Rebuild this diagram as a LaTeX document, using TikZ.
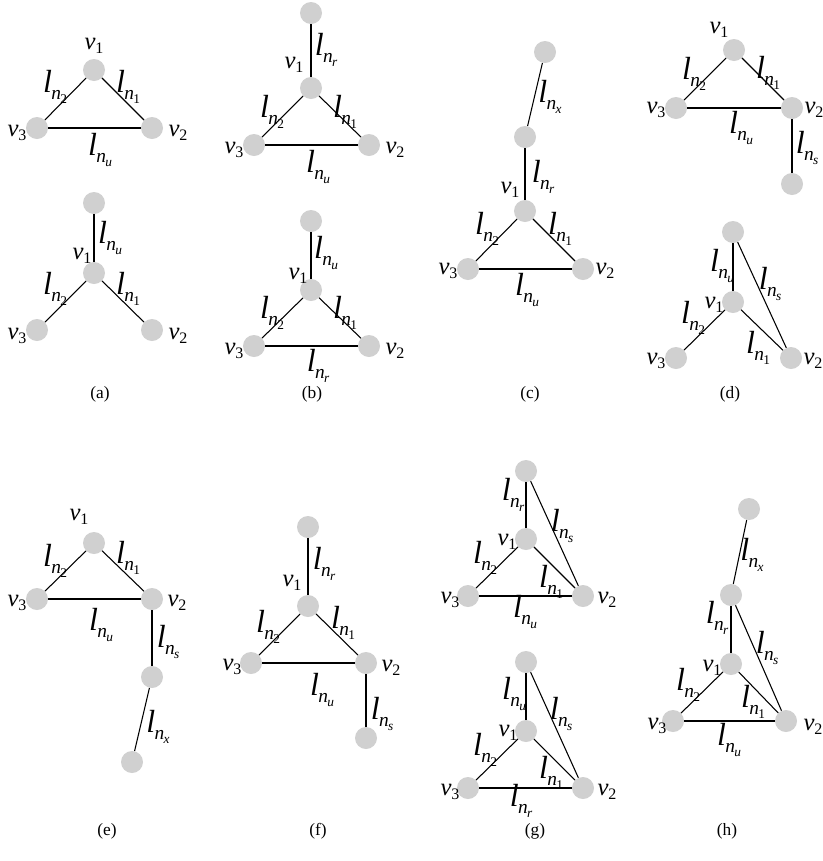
\documentclass[tikz,border=0pt]{standalone}
\usepackage{fontspec}
\setmainfont{Liberation Serif}
\definecolor{vgray}{RGB}{208,208,208}
\newcommand\Lab[1]{\fontsize{24}{24}\selectfont\itshape l\kern-0.5pt\raisebox{-5.5pt}{\fontsize{14.5}{14.5}\selectfont n\kern-0.5pt\raisebox{-2.8pt}{\fontsize{10}{10}\selectfont #1}}}
\newcommand\Vlab[1]{\fontsize{18.5}{18.5}\selectfont\itshape v\raisebox{-3pt}{\fontsize{12}{12}\selectfont\upshape #1}}
\newcommand\Cap[1]{\fontsize{13}{13}\selectfont (#1)}
\tikzset{
  vert/.style={circle, fill=vgray, minimum size=16.5pt, inner sep=0pt},
  edge/.style={line width=0.8pt, black},
  lab/.style={inner sep=0pt}
}
\begin{document}
\begin{tikzpicture}[x=0.75pt,y=-0.75pt]
\useasboundingbox (0,0) rectangle (822,861);
\clip (0,0) rectangle (822,861);
\fill[white] (0,0) rectangle (822,861);
% ---------- (a) top
\node[vert] (A1) at (94,70) {};
\node[vert] (A2) at (152,128) {};
\node[vert] (A3) at (37,128) {};
\draw[edge] (A1) -- (A2); \draw[edge] (A1) -- (A3); \draw[edge] (A3) -- (A2);
\node[lab] (Av1) at (94,46) {\Vlab{1}};
\node[lab] (Al2) at (55,87) {\Lab{\upshape 2}};
\node[lab] (Al1) at (128,87) {\Lab{\upshape 1}};
\node[lab] (Av3) at (17,133) {\Vlab{3}};
\node[lab] (Av2) at (178,133) {\Vlab{2}};
\node[lab] (Alu) at (100,150) {\Lab{u}};
% ---------- (a) bottom
\node[vert] (B0) at (94,203) {};
\node[vert] (B1) at (94,273) {};
\node[vert] (B3) at (37,330) {};
\node[vert] (B2) at (152,330) {};
\draw[edge] (B0) -- (B1); \draw[edge] (B1) -- (B3); \draw[edge] (B1) -- (B2);
\node[lab] (Blu) at (110,238) {\Lab{u}};
\node[lab] (Bv1) at (82,256) {\Vlab{1}};
\node[lab] (Bl2) at (55,289) {\Lab{\upshape 2}};
\node[lab] (Bl1) at (128,289) {\Lab{\upshape 1}};
\node[lab] (Bv3) at (17,336) {\Vlab{3}};
\node[lab] (Bv2) at (178,336) {\Vlab{2}};
% ---------- (b) top
\node[vert] (C0) at (311,13) {};
\node[vert] (C1) at (311,88) {};
\node[vert] (C3) at (254,145) {};
\node[vert] (C2) at (369,145) {};
\draw[edge] (C0) -- (C1); \draw[edge] (C1) -- (C3); \draw[edge] (C1) -- (C2); \draw[edge] (C3) -- (C2);
\node[lab] (Clr) at (326,50) {\Lab{r}};
\node[lab] (Cv1) at (294,65) {\Vlab{1}};
\node[lab] (Cl2) at (272,112) {\Lab{\upshape 2}};
\node[lab] (Cl1) at (345,112) {\Lab{\upshape 1}};
\node[lab] (Cv3) at (234,150) {\Vlab{3}};
\node[lab] (Cv2) at (395,150) {\Vlab{2}};
\node[lab] (Clu) at (318,167) {\Lab{u}};
% ---------- (b) bottom
\node[vert] (D0) at (311,221) {};
\node[vert] (D1) at (311,290) {};
\node[vert] (D3) at (254,346) {};
\node[vert] (D2) at (369,346) {};
\draw[edge] (D0) -- (D1); \draw[edge] (D1) -- (D3); \draw[edge] (D1) -- (D2); \draw[edge] (D3) -- (D2);
\node[lab] (Dlu) at (326,253) {\Lab{u}};
\node[lab] (Dv1) at (298,276) {\Vlab{1}};
\node[lab] (Dl2) at (272,313) {\Lab{\upshape 2}};
\node[lab] (Dl1) at (345,313) {\Lab{\upshape 1}};
\node[lab] (Dv3) at (234,351) {\Vlab{3}};
\node[lab] (Dv2) at (395,351) {\Vlab{2}};
\node[lab] (Dlr) at (318,366) {\Lab{r}};
% ---------- (c)
\node[vert] (E0) at (545,52) {};
\node[vert] (E4) at (525,137) {};
\node[vert] (E1) at (525,211) {};
\node[vert] (E3) at (468,269) {};
\node[vert] (E2) at (583,269) {};
\draw[edge] (E0) -- (E4); \draw[edge] (E4) -- (E1); \draw[edge] (E1) -- (E3); \draw[edge] (E1) -- (E2); \draw[edge] (E3) -- (E2);
\node[lab] (Elx) at (550,97) {\Lab{x}};
\node[lab] (Elr) at (543,177) {\Lab{r}};
\node[lab] (Ev1) at (510,190) {\Vlab{1}};
\node[lab] (El2) at (487,229) {\Lab{\upshape 2}};
\node[lab] (El1) at (560,229) {\Lab{\upshape 1}};
\node[lab] (Ev3) at (448,271) {\Vlab{3}};
\node[lab] (Ev2) at (605,271) {\Vlab{2}};
\node[lab] (Elu) at (527,290) {\Lab{u}};
% ---------- (d) top
\node[vert] (F1) at (734,50) {};
\node[vert] (F3) at (676,108) {};
\node[vert] (F2) at (792,108) {};
\node[vert] (F4) at (792,184) {};
\draw[edge] (F1) -- (F3); \draw[edge] (F1) -- (F2); \draw[edge] (F3) -- (F2); \draw[edge] (F2) -- (F4);
\node[lab] (Fv1) at (719,30) {\Vlab{1}};
\node[lab] (Fl2) at (694,74) {\Lab{\upshape 2}};
\node[lab] (Fl1) at (768,73) {\Lab{\upshape 1}};
\node[lab] (Fv3) at (656,110) {\Vlab{3}};
\node[lab] (Fv2) at (814,110) {\Vlab{2}};
\node[lab] (Flu) at (741,128) {\Lab{u}};
\node[lab] (Fls) at (807,148) {\Lab{s}};
% ---------- (d) bottom
\node[vert] (G0) at (733,232) {};
\node[vert] (G1) at (733,302) {};
\node[vert] (G3) at (676,358) {};
\node[vert] (G2) at (791,358) {};
\draw[edge] (G0) -- (G1); \draw[edge] (G0) -- (G2); \draw[edge] (G1) -- (G3); \draw[edge] (G1) -- (G2);
\node[lab] (Glu) at (722,266) {\Lab{u}};
\node[lab] (Gls) at (770,284) {\Lab{s}};
\node[lab] (Gv1) at (714,305) {\Vlab{1}};
\node[lab] (Gl2) at (693,318) {\Lab{\upshape 2}};
\node[lab] (Gl1) at (758,348) {\Lab{\upshape 1}};
\node[lab] (Gv3) at (656,361) {\Vlab{3}};
\node[lab] (Gv2) at (813,361) {\Vlab{2}};
% ---------- (e)
\node[vert] (H1) at (94,543) {};
\node[vert] (H3) at (37,599) {};
\node[vert] (H2) at (152,599) {};
\node[vert] (H4) at (152,677) {};
\node[vert] (H5) at (132,762) {};
\draw[edge] (H1) -- (H3); \draw[edge] (H1) -- (H2); \draw[edge] (H3) -- (H2); \draw[edge] (H2) -- (H4); \draw[edge] (H4) -- (H5);
\node[lab] (Hv1) at (79,517) {\Vlab{1}};
\node[lab] (Hl2) at (55,561) {\Lab{\upshape 2}};
\node[lab] (Hl1) at (128,558) {\Lab{\upshape 1}};
\node[lab] (Hv3) at (17,603) {\Vlab{3}};
\node[lab] (Hv2) at (177,603) {\Vlab{2}};
\node[lab] (Hlu) at (101,625) {\Lab{u}};
\node[lab] (Hls) at (168,642) {\Lab{s}};
\node[lab] (Hlx) at (158,727) {\Lab{x}};
% ---------- (f)
\node[vert] (I0) at (308,527) {};
\node[vert] (I1) at (308,606) {};
\node[vert] (I3) at (251,663) {};
\node[vert] (I2) at (366,663) {};
\node[vert] (I4) at (366,738) {};
\draw[edge] (I0) -- (I1); \draw[edge] (I1) -- (I3); \draw[edge] (I1) -- (I2); \draw[edge] (I3) -- (I2); \draw[edge] (I2) -- (I4);
\node[lab] (Ilr) at (324,564) {\Lab{r}};
\node[lab] (Iv1) at (292,583) {\Vlab{1}};
\node[lab] (Il2) at (268,627) {\Lab{\upshape 2}};
\node[lab] (Il1) at (343,623) {\Lab{\upshape 1}};
\node[lab] (Iv3) at (232,667) {\Vlab{3}};
\node[lab] (Iv2) at (391,668) {\Vlab{2}};
\node[lab] (Ilu) at (322,690) {\Lab{u}};
\node[lab] (Ils) at (382,714) {\Lab{s}};
% ---------- (g) top
\node[vert] (J0) at (526,471) {};
\node[vert] (J1) at (526,539) {};
\node[vert] (J3) at (468,596) {};
\node[vert] (J2) at (583,596) {};
\draw[edge] (J0) -- (J1); \draw[edge] (J0) -- (J2); \draw[edge] (J1) -- (J3); \draw[edge] (J1) -- (J2); \draw[edge] (J3) -- (J2);
\node[lab] (Jlr) at (513,495) {\Lab{r}};
\node[lab] (Jls) at (562,526) {\Lab{s}};
\node[lab] (Jv1) at (507,542) {\Vlab{1}};
\node[lab] (Jl2) at (485,558) {\Lab{\upshape 2}};
\node[lab] (Jl1) at (551,582) {\Lab{\upshape 1}};
\node[lab] (Jv3) at (450,600) {\Vlab{3}};
\node[lab] (Jv2) at (607,600) {\Vlab{2}};
\node[lab] (Jlu) at (525,612) {\Lab{u}};
% ---------- (g) bottom
\node[vert] (K0) at (526,662) {};
\node[vert] (K1) at (526,731) {};
\node[vert] (K3) at (468,788) {};
\node[vert] (K2) at (583,788) {};
\draw[edge] (K0) -- (K1); \draw[edge] (K0) -- (K2); \draw[edge] (K1) -- (K3); \draw[edge] (K1) -- (K2); \draw[edge] (K3) -- (K2);
\node[lab] (Klu) at (514,694) {\Lab{u}};
\node[lab] (Kls) at (561,714) {\Lab{s}};
\node[lab] (Kv1) at (508,733) {\Vlab{1}};
\node[lab] (Kl2) at (485,750) {\Lab{\upshape 2}};
\node[lab] (Kl1) at (551,773) {\Lab{\upshape 1}};
\node[lab] (Kv3) at (450,792) {\Vlab{3}};
\node[lab] (Kv2) at (607,792) {\Vlab{2}};
\node[lab] (Klr) at (521,801) {\Lab{r}};
% ---------- (h)
\node[vert] (M0) at (749,509) {};
\node[vert] (M4) at (731,595) {};
\node[vert] (M1) at (731,664) {};
\node[vert] (M3) at (673,721) {};
\node[vert] (M2) at (786,721) {};
\draw[edge] (M0) -- (M4); \draw[edge] (M4) -- (M1); \draw[edge] (M4) -- (M2); \draw[edge] (M1) -- (M3); \draw[edge] (M1) -- (M2); \draw[edge] (M3) -- (M2);
\node[lab] (Mlx) at (752,555) {\Lab{x}};
\node[lab] (Mlr) at (717,618) {\Lab{r}};
\node[lab] (Mls) at (767,648) {\Lab{s}};
\node[lab] (Mv1) at (712,668) {\Vlab{1}};
\node[lab] (Ml2) at (688,685) {\Lab{\upshape 2}};
\node[lab] (Ml1) at (753,702) {\Lab{\upshape 1}};
\node[lab] (Mv3) at (657,726) {\Vlab{3}};
\node[lab] (Mv2) at (813,727) {\Vlab{2}};
\node[lab] (Mlu) at (729,740) {\Lab{u}};
% ---------- captions
\node[lab] (capa) at (100,394) {\Cap{a}};
\node[lab] (capb) at (312,394) {\Cap{b}};
\node[lab] (capc) at (530,394) {\Cap{c}};
\node[lab] (capd) at (730,394) {\Cap{d}};
\node[lab] (cape) at (107,831) {\Cap{e}};
\node[lab] (capf) at (318,831) {\Cap{f}};
\node[lab] (capg) at (535,831) {\Cap{g}};
\node[lab] (caph) at (727,831) {\Cap{h}};
\end{tikzpicture}
\end{document}
